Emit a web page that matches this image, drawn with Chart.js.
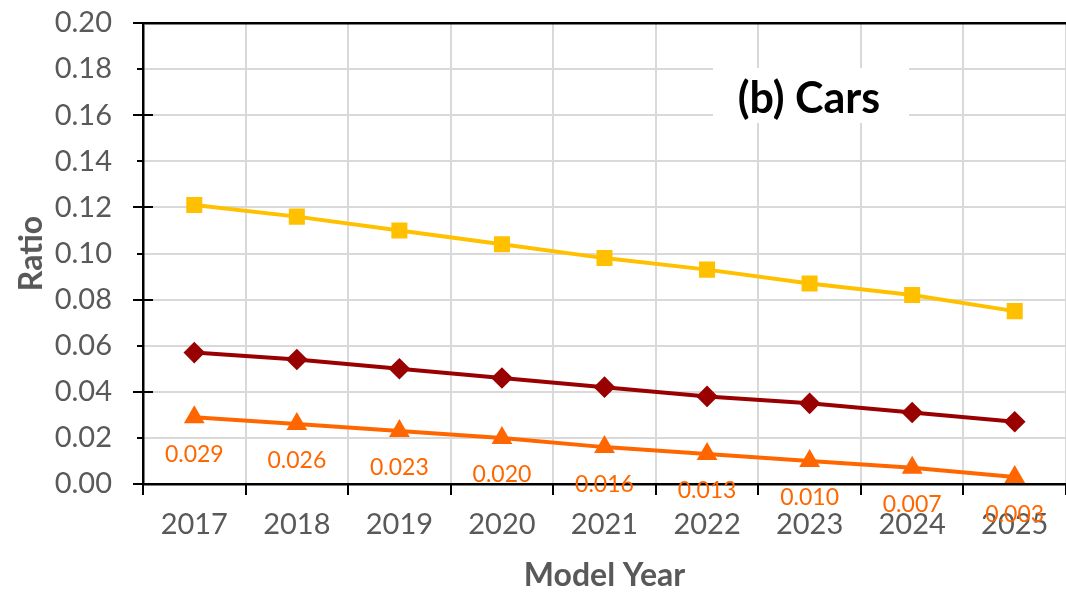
<!DOCTYPE html>
<html>
<head>
<meta charset="utf-8">
<script src="https://cdn.jsdelivr.net/npm/chart.js@4.4.1/dist/chart.umd.min.js"></script>
<style>
  html, body { margin: 0; padding: 0; background: #fff; }
  #wrap { width: 1066px; height: 593px; }
</style>
</head>
<body>
<div id="wrap"><canvas id="chart" width="1066" height="593"></canvas></div>
<script>
const years = ['2017', '2018', '2019', '2020', '2021', '2022', '2023', '2024', '2025'];
const upperRatio = [0.121, 0.116, 0.110, 0.104, 0.098, 0.093, 0.087, 0.082, 0.075];
const middleRatio = [0.057, 0.054, 0.050, 0.046, 0.042, 0.038, 0.035, 0.031, 0.027];
const lowerRatio = [0.029, 0.026, 0.023, 0.020, 0.016, 0.013, 0.010, 0.007, 0.003];
const lowerLabels = ['0.029', '0.026', '0.023', '0.020', '0.016', '0.013', '0.010', '0.007', '0.003'];

const FONT = 'Lato, "Open Sans", sans-serif';
const GREY = '#595959';

// tick marks outside/inside the axes, Excel style
const axisTicks = {
  id: 'axisTicks',
  afterDraw(chart) {
    const { ctx, chartArea, scales } = chart;
    ctx.save();
    ctx.strokeStyle = '#000';
    ctx.lineWidth = 2;
    scales.y.ticks.forEach((t, i) => {
      const y = Math.round(scales.y.getPixelForValue(t.value));
      const major = i % 2 === 0;
      ctx.beginPath();
      ctx.moveTo(chartArea.left - (major ? 10 : 6), y);
      ctx.lineTo(chartArea.left + (major ? 10 : 0), y);
      ctx.stroke();
    });
    const n = years.length;
    const w = (chartArea.right - chartArea.left) / n;
    for (let i = 0; i <= n; i++) {
      const x = Math.round(chartArea.left + i * w);
      ctx.beginPath();
      ctx.moveTo(x, chartArea.bottom);
      ctx.lineTo(x, chartArea.bottom + 11);
      ctx.stroke();
    }
    ctx.restore();
  }
};

// value labels under the lower series
const valueLabels = {
  id: 'valueLabels',
  afterDatasetsDraw(chart) {
    const { ctx } = chart;
    const meta = chart.getDatasetMeta(2);
    ctx.save();
    ctx.font = '23px ' + FONT;
    ctx.fillStyle = '#FF6600';
    ctx.textAlign = 'center';
    ctx.textBaseline = 'middle';
    meta.data.forEach((pt, i) => {
      ctx.fillText(lowerLabels[i], pt.x, pt.y + 37);
    });
    ctx.restore();
  }
};

// "(b) Cars" box inside the plot
const panelTitle = {
  id: 'panelTitle',
  afterDraw(chart) {
    const { ctx } = chart;
    ctx.save();
    ctx.fillStyle = '#fff';
    ctx.fillRect(713, 68, 196, 55);
    ctx.font = 'bold 43px ' + FONT;
    ctx.fillStyle = '#000';
    ctx.textAlign = 'center';
    ctx.textBaseline = 'middle';
    ctx.fillText('(b) Cars', 809, 99);
    ctx.restore();
  }
};

new Chart(document.getElementById('chart'), {
  type: 'line',
  data: {
    labels: years,
    datasets: [
      {
        data: upperRatio,
        borderColor: '#FFC000',
        backgroundColor: '#FFC000',
        borderWidth: 4,
        pointStyle: 'rect',
        pointRadius: 8.5,
        tension: 0
      },
      {
        data: middleRatio,
        borderColor: '#990000',
        backgroundColor: '#990000',
        borderWidth: 4,
        pointStyle: 'rectRot',
        pointRadius: 8,
        tension: 0
      },
      {
        data: lowerRatio,
        borderColor: '#FF6600',
        backgroundColor: '#FF6600',
        borderWidth: 4,
        pointStyle: 'triangle',
        pointRadius: 8,
        tension: 0
      }
    ]
  },
  options: {
    responsive: false,
    animation: false,
    layout: { autoPadding: false, padding: { top: 23, right: 0, left: 0, bottom: 0 } },
    plugins: {
      legend: { display: false },
      tooltip: { enabled: false }
    },
    scales: {
      x: {
        offset: true,
        grid: {
          offset: true,
          color: '#d9d9d9',
          lineWidth: 2,
          drawTicks: false
        },
        border: { color: '#000', width: 2.5 },
        ticks: {
          color: GREY,
          font: { family: FONT, size: 29 },
          padding: 23,
          maxRotation: 0
        },
        title: {
          display: true,
          text: 'Model Year',
          color: GREY,
          font: { family: FONT, size: 32, weight: 'bold' },
          padding: { top: 0, bottom: -2 }
        },
        afterFit(scale) {
          scale.height = 109;
          scale.paddingLeft = 0;
          scale.paddingRight = 0;
        }
      },
      y: {
        min: 0,
        max: 0.2,
        ticks: {
          stepSize: 0.01,
          color: GREY,
          font: { family: FONT, size: 29 },
          padding: 31,
          callback: (v, i) => (i % 2 === 0 ? Number(v).toFixed(2) : '')
        },
        grid: {
          color: (c) => {
            if (c.index % 2 !== 0) return 'rgba(0,0,0,0)';
            return c.index === 20 ? '#000' : '#d9d9d9';
          },
          lineWidth: (c) => (c.index === 20 ? 2.5 : 2),
          drawTicks: false
        },
        border: { color: '#000', width: 2.5 },
        title: {
          display: true,
          text: 'Ratio',
          color: GREY,
          font: { family: FONT, size: 32, weight: 'bold' },
          padding: { top: 12, bottom: 0 }
        },
        afterFit(scale) {
          scale.width = 143;
          scale.paddingTop = 0;
          scale.paddingBottom = 0;
        }
      }
    }
  },
  plugins: [axisTicks, valueLabels, panelTitle]
});
</script>
</body>
</html>
